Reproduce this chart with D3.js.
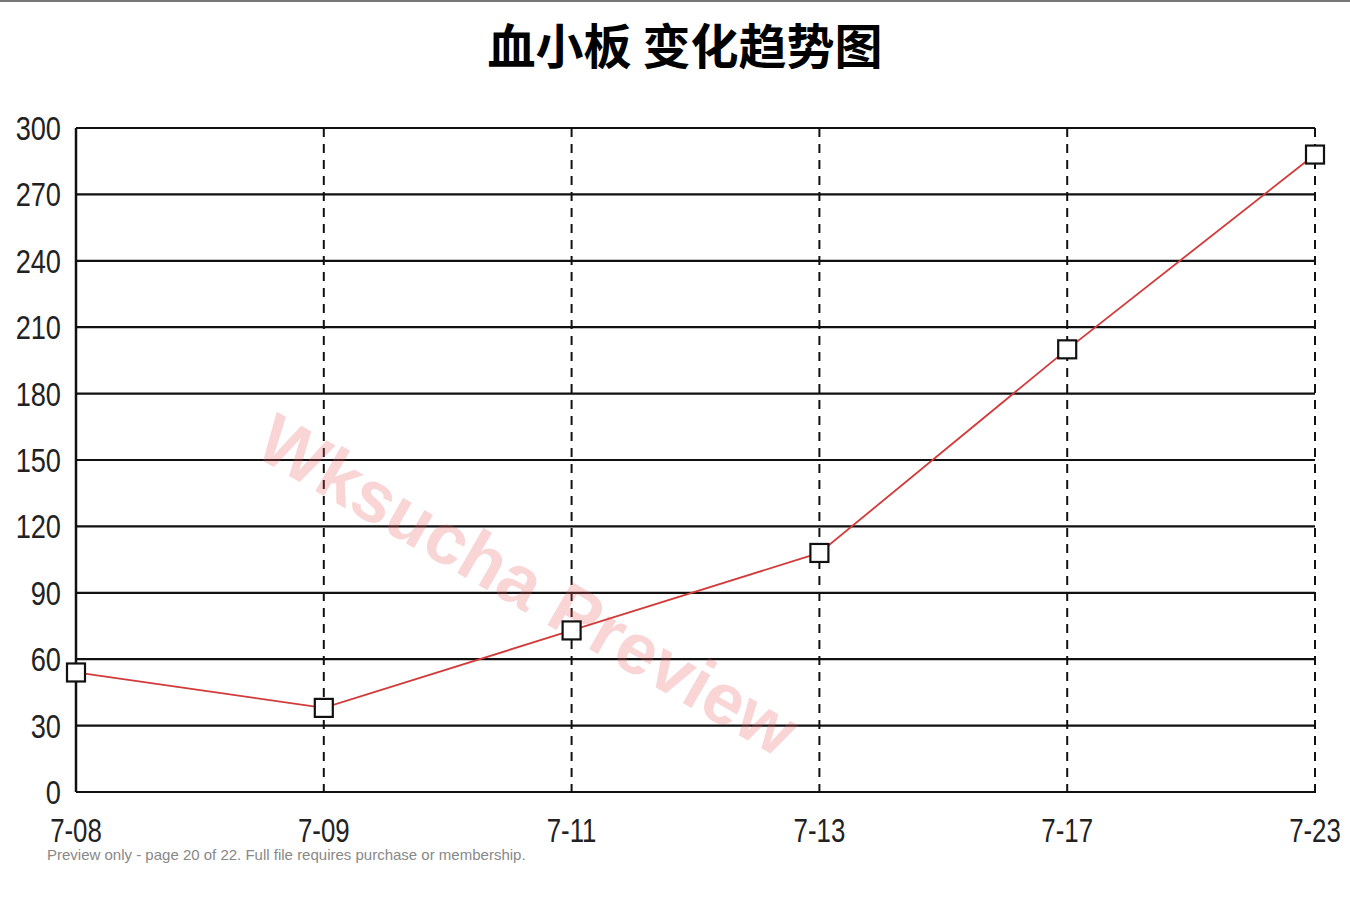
<!DOCTYPE html>
<html>
<head>
<meta charset="utf-8">
<title>血小板 变化趋势图</title>
<script src="https://d3js.org/d3.v7.min.js"></script>
<style>
 body { margin: 0; background: #fff; }
</style>
</head>
<body>
<div id="chart"></div>
<script>
// data
var dates = ["7-08", "7-09", "7-11", "7-13", "7-17", "7-23"];
var platelets = [54, 38, 73, 108, 200, 288];
var yTicks = [0, 30, 60, 90, 120, 150, 180, 210, 240, 270, 300];
var title = "血小板 变化趋势图";

var W = 1350, H = 900;
var pLeft = 76, pRight = 1315, pTop = 128, pBottom = 792;

var svg = d3.select("#chart").append("svg")
  .attr("width", W).attr("height", H);

// thin border at the very top
svg.append("line")
  .attr("x1", 0).attr("x2", W).attr("y1", 1).attr("y2", 1)
  .style("stroke", "#777").style("stroke-width", 2);

var x = d3.scalePoint().domain(dates).range([pLeft, pRight]);
var y = d3.scaleLinear().domain([0, 300]).range([pBottom, pTop]);

svg.append("text")
  .attr("x", 685).attr("y", 64)
  .attr("text-anchor", "middle")
  .style("font-family", "'Noto Sans CJK SC'")
  .style("font-weight", "bold")
  .style("font-size", "48px")
  .text(title);

// horizontal grid
svg.append("g").selectAll("line")
  .data(yTicks)
  .enter().append("line")
  .attr("x1", pLeft).attr("x2", pRight)
  .attr("y1", function(d) { return y(d); })
  .attr("y2", function(d) { return y(d); })
  .style("stroke", "#111").style("stroke-width", 2.2);

// vertical dashed grid (first one is the axis itself)
svg.append("g").selectAll("line")
  .data(dates.slice(1))
  .enter().append("line")
  .attr("x1", function(d) { return x(d); })
  .attr("x2", function(d) { return x(d); })
  .attr("y1", pTop).attr("y2", pBottom + 6)
  .style("stroke", "#111").style("stroke-width", 2)
  .style("stroke-dasharray", "9,7");

svg.append("line")
  .attr("x1", pLeft).attr("x2", pLeft).attr("y1", pTop).attr("y2", pBottom)
  .style("stroke", "#111").style("stroke-width", 2.5);

// narrow labels: squeeze a normal sans horizontally
var labelFont = "'Liberation Sans', Arial, sans-serif";

svg.append("g").selectAll("text")
  .data(yTicks)
  .enter().append("text")
  .attr("transform", function(d) {
    return "translate(61," + (y(d) + 12) + ") scale(0.8,1)";
  })
  .attr("text-anchor", "end")
  .style("font-family", labelFont)
  .style("font-size", "34px")
  .style("fill", "#222")
  .text(function(d) { return d; });

svg.append("g").selectAll("text")
  .data(dates)
  .enter().append("text")
  .attr("transform", function(d) {
    return "translate(" + x(d) + ",842) scale(0.76,1)";
  })
  .attr("text-anchor", "middle")
  .style("font-family", labelFont)
  .style("font-size", "34px")
  .style("fill", "#222")
  .text(function(d) { return d; });

// watermark
svg.append("text")
  .attr("transform", "translate(525,590) rotate(30)")
  .attr("text-anchor", "middle")
  .attr("dominant-baseline", "middle")
  .style("font-family", "'Liberation Sans', Arial, sans-serif")
  .style("font-weight", "bold")
  .style("font-size", "72px")
  .style("fill", "#e85a5a")
  .style("opacity", 0.25)
  .text("Wksucha Preview");

// series line
var line = d3.line()
  .x(function(d, i) { return x(dates[i]); })
  .y(function(d) { return y(d); });

svg.append("path")
  .datum(platelets)
  .attr("d", line)
  .style("fill", "none")
  .style("stroke", "#d33a3a")
  .style("stroke-width", 1.8);

svg.append("g").selectAll("rect")
  .data(platelets)
  .enter().append("rect")
  .attr("x", function(d, i) { return x(dates[i]) - 9; })
  .attr("y", function(d) { return y(d) - 9; })
  .attr("width", 18).attr("height", 18)
  .style("fill", "#fff")
  .style("stroke", "#111")
  .style("stroke-width", 2.2);

svg.append("text")
  .attr("x", 47).attr("y", 860)
  .style("font-family", "'Liberation Sans', Arial, sans-serif")
  .style("font-size", "15px")
  .style("fill", "#888")
  .text("Preview only - page 20 of 22. Full file requires purchase or membership.");
</script>
</body>
</html>
